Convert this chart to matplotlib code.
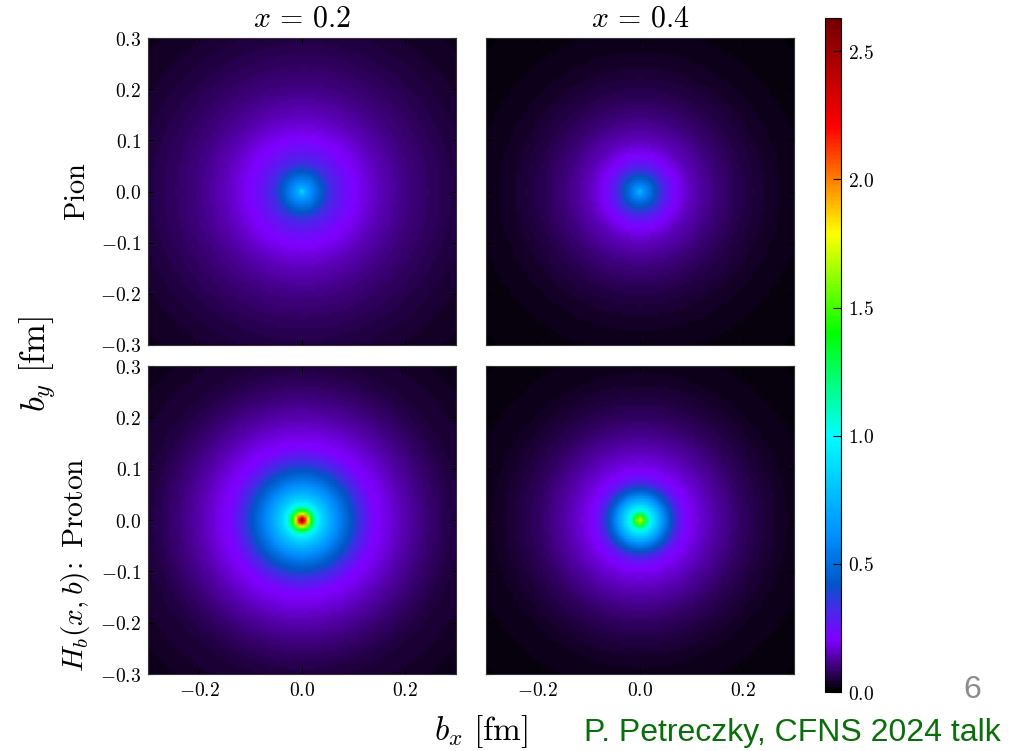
import numpy as np
import matplotlib
matplotlib.use("Agg")
import matplotlib.pyplot as plt
from matplotlib.colors import LinearSegmentedColormap, Normalize
from matplotlib.cm import ScalarMappable

# Radial profiles: H_b at distance r (fm) from the centre
radius_pion_a = [0, .005, .01, .02, .03, .046, .06, .08, .10, .12, .15, .20, .25, .30, .35, .43]
pion_x02 = [.90, .76, .68, .58, .50, .38, .31, .25, .21, .185, .15, .108, .08, .058, .042, .026]
radius_pion_b = [0, .005, .01, .02, .03, .04, .05, .06, .07, .08, .10, .15, .20, .25, .30, .43]
pion_x04 = [.78, .68, .60, .50, .42, .35, .29, .24, .21, .185, .15, .097, .062, .038, .023, .008]
radius_proton_a = [0, .006, .012, .02, .03, .04, .06, .08, .10, .12, .14, .16, .20, .25, .30, .43]
proton_x02 = [2.63, 2.2, 1.78, 1.3, .98, .85, .67, .52, .40, .30, .215, .19, .14, .09, .054, .02]
radius_proton_b = [0, .006, .013, .02, .03, .04, .05, .06, .07, .08, .09, .11, .15, .20, .25, .30, .43]
proton_x04 = [1.8, 1.55, 1.25, 1.0, .85, .70, .54, .43, .33, .26, .215, .18, .13, .08, .047, .026, .008]

column_titles = [r"$x\,=\,0.2$", r"$x\,=\,0.4$"]
ticks_y = [-.3, -.2, -.1, 0, .1, .2, .3]
ticks_x = [-.2, 0, .2]
ticks_cbar = [0, .5, 1, 1.5, 2, 2.5]
vmax = 2.63
cmap_values = [0, .2, .33, .42, .6, 1.0, 1.4, 1.79, 2.21, 2.63]
cmap_colors = [(0, 0, 0), (.5, 0, 1), (.25, .18, .9), (0, .34, .78), (0, .55, 1),
               (0, 1, 1), (0, 1, 0), (1, 1, 0), (1, 0, 0), (.45, 0, 0)]

plt.rcParams["mathtext.fontset"] = "cm"
W, H = 1014, 751
fig = plt.figure(figsize=(W / 100, H / 100), dpi=100)


def rect(x0, y0, x1, y1):
    return [x0 / W, 1 - y1 / H, (x1 - x0) / W, (y1 - y0) / H]


def put(x, y, s, **kw):
    kw.setdefault("ha", "center")
    kw.setdefault("va", "center")
    fig.text(x / W, 1 - y / H, s, **kw)


cmap = LinearSegmentedColormap.from_list(
    "hb", [(v / vmax, c) for v, c in zip(cmap_values, cmap_colors)], N=256)
norm = Normalize(0, vmax)

nodes = np.linspace(-.3, .3, 101)
rr = np.hypot(*np.meshgrid(nodes, nodes))

panels = [
    (rect(148, 38, 456, 345), radius_pion_a, pion_x02, False, True),
    (rect(486, 38, 794, 345), radius_pion_b, pion_x04, False, False),
    (rect(148, 366, 456, 674), radius_proton_a, proton_x02, True, True),
    (rect(486, 366, 794, 674), radius_proton_b, proton_x04, True, False),
]


def fmt(v):
    s = f"{abs(v):.1f}"
    return rf"$-{s}$" if v < -1e-9 else rf"${s}$"


for box, rad, prof, xlab, ylab in panels:
    ax = fig.add_axes(box)
    ax.pcolormesh(nodes, nodes, np.interp(rr, rad, prof), cmap=cmap, norm=norm,
                  shading="gouraud", rasterized=True)
    ax.set_xlim(-.3, .3)
    ax.set_ylim(-.3, .3)
    ax.set_xticks(ticks_x)
    ax.set_yticks(ticks_y)
    ax.tick_params(direction="in", top=True, right=True, length=4, width=.8,
                   labelsize=14, labelbottom=xlab, labelleft=ylab, pad=5)
    if xlab:
        ax.set_xticklabels([fmt(v) for v in ticks_x])
    if ylab:
        ax.set_yticklabels([fmt(v) for v in ticks_y])
    for sp in ax.spines.values():
        sp.set_linewidth(.8)
        sp.set_color("#333333")

cax = fig.add_axes(rect(825, 18, 841, 692))
cb = fig.colorbar(ScalarMappable(norm=norm, cmap=cmap), cax=cax, ticks=ticks_cbar)
cb.ax.set_yticklabels([fmt(v) for v in ticks_cbar])
cb.ax.tick_params(direction="in", length=6, width=.8, labelsize=14, pad=5)
cb.outline.set_linewidth(.8)

put(302, 18, column_titles[0], fontsize=21.5)
put(640, 18, column_titles[1], fontsize=21.5)
put(77, 192, r"$\mathrm{Pion}$", fontsize=20.5, rotation=90)
put(38, 364, r"$b_y\ [\mathrm{fm}]$", fontsize=25, rotation=90)
put(76, 565, r"$H_b(x,b)\!:\ \mathrm{Proton}$", fontsize=21.3, rotation=90)
put(481, 732, r"$b_x\ [\mathrm{fm}]$", fontsize=24)
put(792, 733, "P. Petreczky, CFNS 2024 talk", fontsize=23, color="#0a6e0a",
    family="Liberation Sans")
put(972, 690, "6", fontsize=23, color="#8c8c8c", family="Liberation Sans")

fig.savefig("out.png", dpi=100)
